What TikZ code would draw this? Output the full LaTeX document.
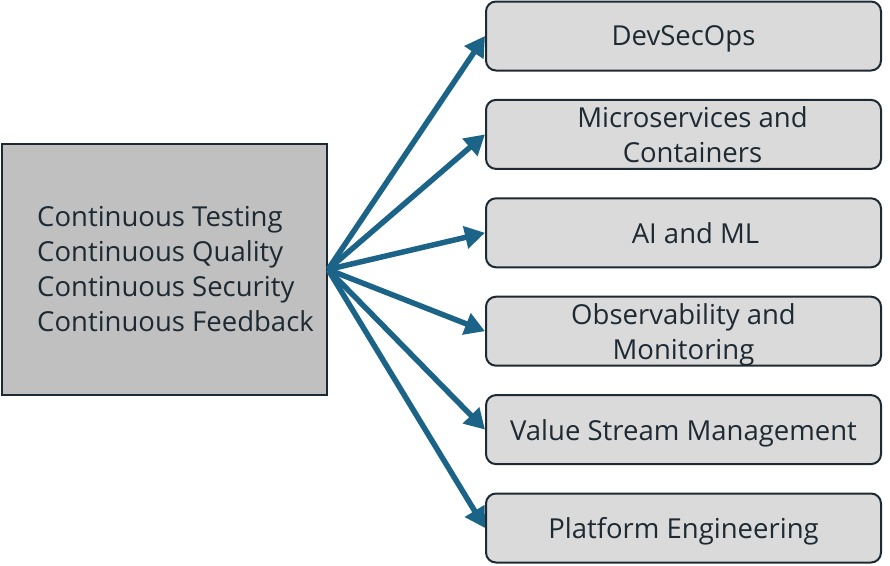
\documentclass[tikz,border=0pt]{standalone}
\usepackage{fontspec}
\setmainfont{Open Sans}
\usetikzlibrary{positioning,arrows.meta}
\definecolor{flowblue}{HTML}{1B6387}
\definecolor{edgedark}{HTML}{1E2A33}
\definecolor{coregray}{HTML}{C0C0C0}
\definecolor{topicgray}{HTML}{DADADA}
\newcommand{\pad}{\hspace*{18pt}}
\tikzset{
  corebox/.style={draw=edgedark, line width=2pt, fill=coregray,
    minimum width=325pt, minimum height=251pt},
  coretext/.style={font=\fontsize{27.5}{35}\selectfont, align=left,
    text=edgedark, inner sep=0pt},
  topic/.style={draw=edgedark, line width=2pt, fill=topicgray,
    rounded corners=10pt, minimum width=395pt, minimum height=69pt,
    align=center, text depth=0pt, font=\fontsize{27.5}{35}\selectfont, text=edgedark},
  flow/.style={flowblue, line width=5.5pt, -{Triangle[length=20pt,width=22pt]}}
}
\begin{document}
\begin{tikzpicture}[x=1pt,y=-1pt]
    \useasboundingbox (0,0) rectangle (890,565);
    %% core practices
    \node[corebox] (core) at (164.5,269.5) {};
    \node[coretext, right=36pt of core.west] (coretxt)
        {Continuous Testing\\Continuous Quality\\Continuous Security\\Continuous Feedback};
    %% topics
    \foreach \i/\txt in {1/DevSecOps, 2/{\pad Microservices and\\\pad Containers},
        3/{\pad\hspace*{6pt}AI and ML}, 4/{Observability and\\Monitoring},
        5/Value Stream Management, 6/Platform Engineering}
        \node[topic] (t\i) at (683.5,{36+98.4*(\i-1)}) {\txt};
    %% arrows
    \foreach \i in {1,...,6}
        \draw[flow] (core.east) -- (t\i.west);
\end{tikzpicture}
\end{document}
